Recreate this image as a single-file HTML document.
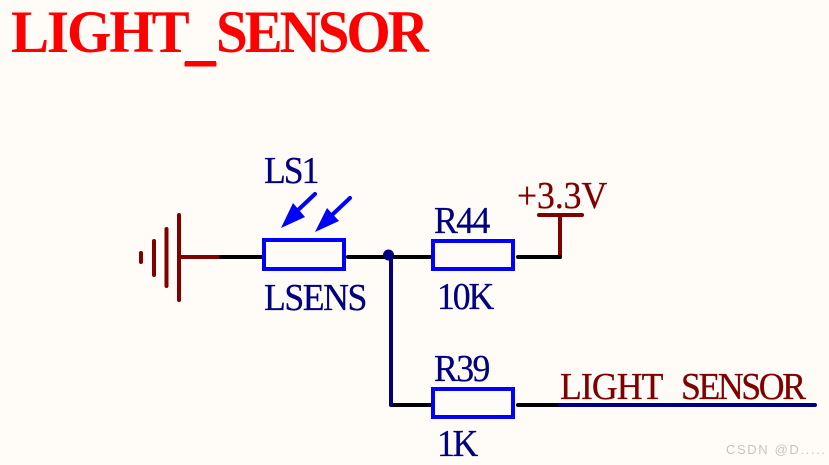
<!DOCTYPE html>
<html>
<head>
<meta charset="utf-8">
<style>
html,body{margin:0;padding:0;background:#fffcf7;}
svg{display:block;}
text{font-family:"Liberation Serif",serif;}
</style>
</head>
<body>
<svg width="829" height="465" viewBox="0 0 829 465" xmlns="http://www.w3.org/2000/svg">
<rect width="829" height="465" fill="#fffcf7"/>
<g font-size="60" font-weight="bold" fill="#ff0000">
<text transform="translate(11 52) scale(.95 1)" textLength="188">LIGHT</text>
<text x="185" y="58" font-size="62">_</text>
<text transform="translate(216 52) scale(.95 1)" textLength="224">SENSOR</text>
</g>
<rect x="185" y="61" width="31" height="4" fill="#ff0000"/>

<g stroke="#800000" stroke-width="4" stroke-linecap="round" fill="none">
<line x1="179" y1="215" x2="179" y2="300"/>
<line x1="166.5" y1="229" x2="166.5" y2="286"/>
<line x1="154" y1="241" x2="154" y2="275"/>
<line x1="141" y1="253" x2="141" y2="262"/>
<line x1="179" y1="257" x2="220" y2="257" stroke-linecap="butt"/>
<line x1="560" y1="257" x2="560" y2="215"/>
<line x1="539" y1="215" x2="582" y2="215"/>
</g>

<g stroke="#000000" stroke-width="4" stroke-linecap="round" fill="none">
<line x1="221" y1="257" x2="262" y2="257"/>
<line x1="348" y1="257" x2="390" y2="257"/>
<line x1="390" y1="257" x2="431" y2="257"/>
<line x1="518" y1="257" x2="560" y2="257"/>
<line x1="392" y1="405" x2="431" y2="405"/>
<line x1="518" y1="405" x2="560" y2="405"/>
</g>

<path d="M391 257V405" stroke="#000080" stroke-width="4" stroke-linecap="round" fill="none"/>
<circle cx="388.500" cy="255" r="5.500" fill="#000080"/>

<g fill="none" stroke="#0000ff" stroke-width="4">
<rect x="264" y="240" width="80" height="29"/>
<rect x="433" y="241" width="80" height="28"/>
<rect x="433" y="389" width="80" height="28"/>
</g>

<g stroke="#0000ff" stroke-width="4" stroke-linecap="round">
<line x1="315" y1="194" x2="297" y2="211"/>
<line x1="350" y1="198" x2="332" y2="215"/>
</g>
<polygon points="281,228 293,203 305,217" fill="#0000ff"/>
<polygon points="315,232 327,208 339,221" fill="#0000ff"/>

<g fill="#000080" font-size="38" stroke="#000080" stroke-width="0.3">
<text transform="translate(264 183) scale(.94 1)" textLength="59">LS1</text>
<text transform="translate(264 310) scale(.94 1)" textLength="110">LSENS</text>
<text transform="translate(434 233) scale(.94 1)" textLength="60">R44</text>
<text transform="translate(437 309) scale(.94 1)" textLength="61">10K</text>
<text transform="translate(434 381) scale(.94 1)" textLength="60">R39</text>
<text transform="translate(437 456) scale(.94 1)" textLength="44">1K</text>
</g>

<g fill="#800000" font-size="38" stroke="#800000" stroke-width="0.3">
<text transform="translate(517 208) scale(.94 1)" textLength="96">+3.3V</text>
<text transform="translate(560 399) scale(.94 1)" textLength="110">LIGHT</text>
<text transform="translate(681 399) scale(.94 1)" textLength="133">SENSOR</text>
</g>

<line x1="560" y1="405" x2="815" y2="405" stroke="#000080" stroke-width="4" stroke-linecap="round"/>

<text x="726" y="454" font-size="13" fill="#c4c4c4" style="font-family:'Liberation Sans',sans-serif" textLength="99">CSDN @D.....</text>
</svg>
</body>
</html>
